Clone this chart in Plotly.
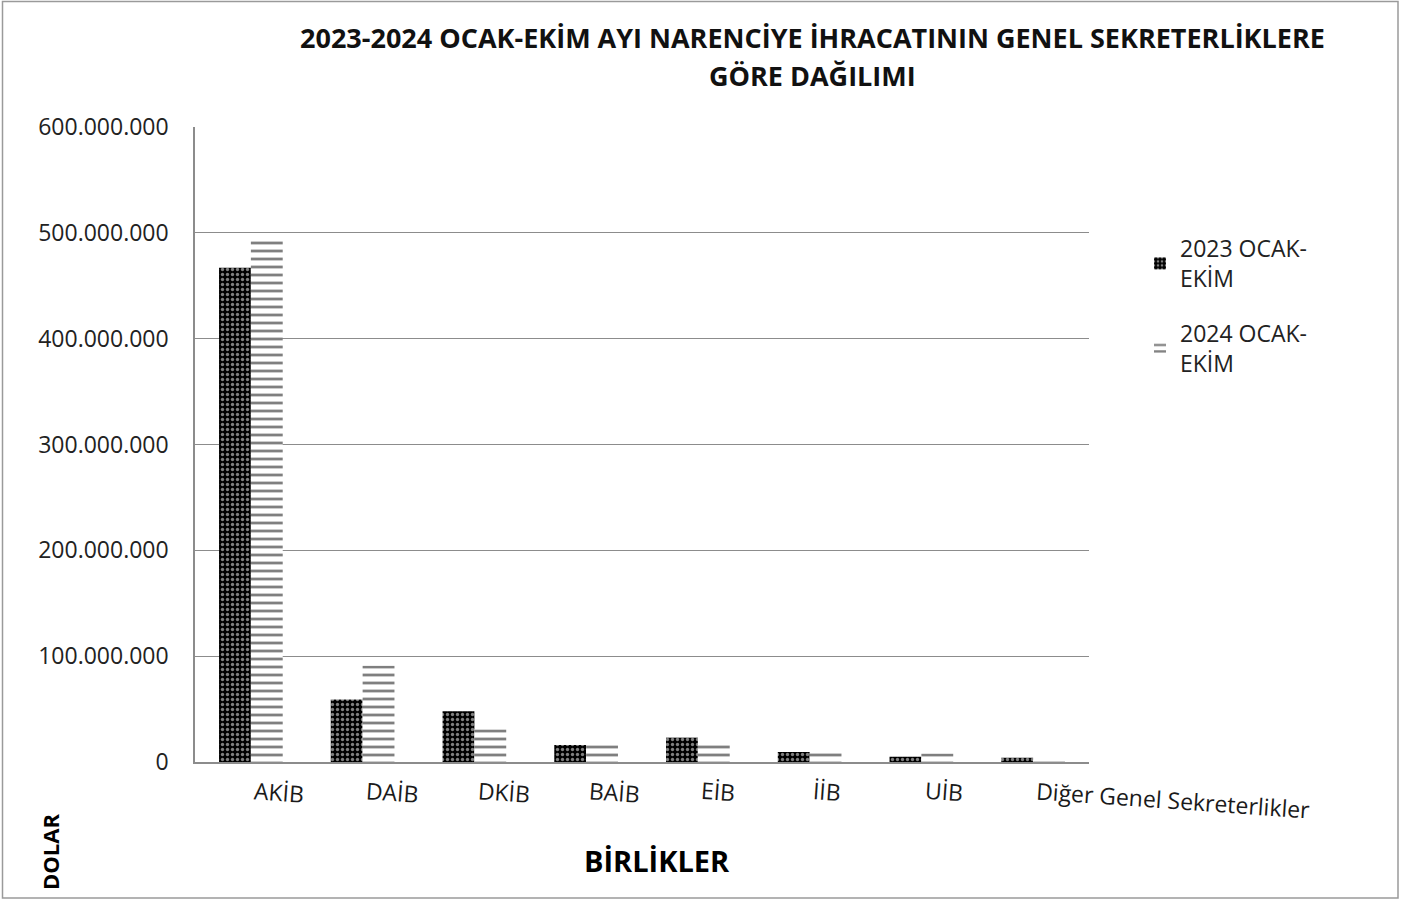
import plotly.graph_objects as go

categories = ["AKİB", "DAİB", "DKİB", "BAİB", "EİB", "İİB", "UİB", "Diğer Genel Sekreterlikler"]
values_2023 = [467_000_000, 59_000_000, 48_000_000, 16_000_000, 23_000_000, 9_500_000, 5_000_000, 4_000_000]
values_2024 = [493_000_000, 91_000_000, 31_000_000, 16_000_000, 16_000_000, 8_500_000, 8_000_000, 1_000_000]
series_names = ["2023 OCAK-<br>EKİM", "2024 OCAK-<br>EKİM"]
tick_vals = [0, 100_000_000, 200_000_000, 300_000_000, 400_000_000, 500_000_000, 600_000_000]
tick_text = ["0", "100.000.000", "200.000.000", "300.000.000", "400.000.000", "500.000.000", "600.000.000"]
title_lines = ["2023-2024 OCAK-EKİM AYI NARENCİYE İHRACATININ GENEL SEKRETERLİKLERE", "GÖRE DAĞILIMI"]

FONT = "Open Sans"
L, R, T, B = 195, 1089, 127, 762   # plot area in page pixels
PW, PH = R - L, B - T


def px(x):
    return (x - L) / PW


def py(y):
    return (B - y) / PH


fig = go.Figure()
fig.add_trace(go.Bar(
    x=categories, y=values_2023, name=series_names[0], legendgroup="a",
    marker=dict(color="black", line=dict(width=0),
                pattern=dict(shape=".", fgcolor="white", bgcolor="black", size=5, solidity=0.35)),
))
fig.add_trace(go.Bar(
    x=categories, y=values_2024, name=series_names[1], legendgroup="b",
    marker=dict(color="white", line=dict(width=0),
                pattern=dict(shape="-", fgcolor="black", bgcolor="white", size=8, solidity=0.35)),
))

# category labels (left-anchored at category center, slightly rotated)
for c in categories:
    fig.add_annotation(x=c, xref="x", y=-10 / PH, yref="paper", text=c, showarrow=False,
                       xanchor="left", yanchor="top", textangle=4,
                       font=dict(family=FONT, size=23, color="#1a1a1a"))

for line, yc in zip(title_lines, [37, 75]):
    fig.add_annotation(text=f"<b>{line}</b>", x=px(812), xref="paper", y=py(yc), yref="paper",
                       showarrow=False, xanchor="center", yanchor="middle",
                       font=dict(family=FONT, size=27, color="#111111"))
fig.add_annotation(text="<b>BİRLİKLER</b>", x=px(657), xref="paper", y=py(860), yref="paper",
                   showarrow=False, xanchor="center", yanchor="middle",
                   font=dict(family=FONT, size=29, color="black"))
fig.add_annotation(text="<b>DOLAR</b>", x=px(50), xref="paper", y=py(852), yref="paper",
                   showarrow=False, textangle=-90, xanchor="center", yanchor="middle",
                   font=dict(family=FONT, size=22, color="black"))

fig.add_shape(type="rect", xref="paper", yref="paper",
              x0=px(2.5), x1=px(1398), y0=py(898), y1=py(1.5),
              line=dict(color="#9a9a9a", width=1.5), fillcolor="rgba(0,0,0,0)", layer="below")

fig.update_layout(
    width=1413, height=900,
    margin=dict(l=L, r=1413 - R, t=T, b=900 - B),
    paper_bgcolor="white", plot_bgcolor="white",
    barmode="group", bargap=0.43, bargroupgap=0,
    xaxis=dict(range=[-0.5, len(categories) - 0.5], showticklabels=False, showgrid=False,
               showline=True, linecolor="#8c8c8c", linewidth=1.5, ticks=""),
    yaxis=dict(range=[0, 600_000_000], tickvals=tick_vals, ticktext=tick_text,
               showgrid=True, gridcolor="#8c8c8c", gridwidth=1,
               showline=True, linecolor="#8c8c8c", linewidth=1.5, ticks="",
               tickfont=dict(family=FONT, size=23, color="#222222"), ticklabelstandoff=20,
               zeroline=False),
    legend=dict(x=px(1140), y=py(227), xanchor="left", yanchor="top",
                font=dict(family=FONT, size=23, color="#222222"),
                traceorder="grouped", tracegroupgap=22,
                bgcolor="rgba(0,0,0,0)", itemwidth=30),
    showlegend=True,
)

fig.write_html("out.html", config={"displayModeBar": False},
               post_script="document.body.style.margin='0';document.body.style.overflow='hidden';")
